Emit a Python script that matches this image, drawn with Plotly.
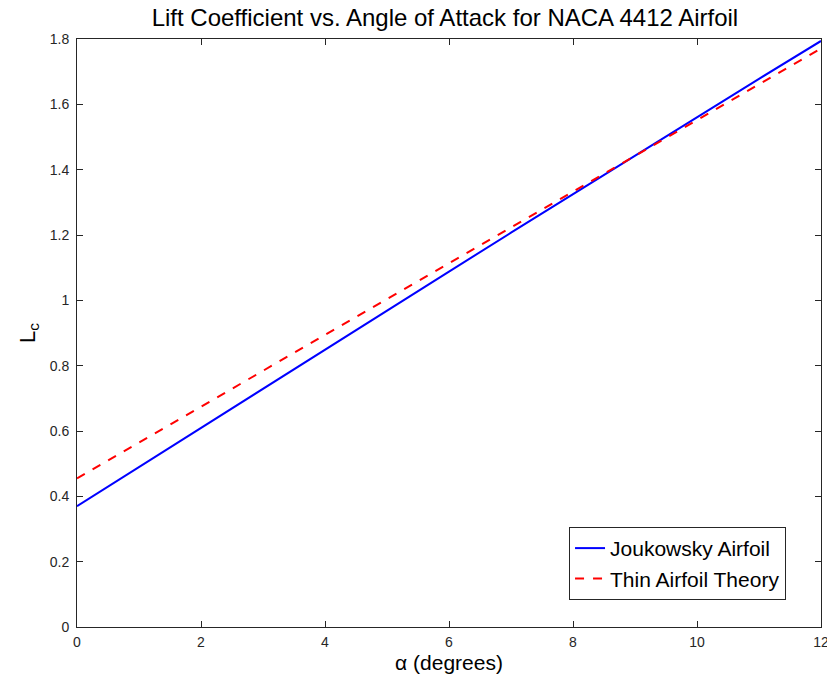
import plotly.graph_objects as go

alpha = [0, 1, 2, 3, 4, 5, 6, 7, 8, 9, 10, 11, 12]
joukowsky = [0.370, 0.490, 0.610, 0.730, 0.849, 0.969, 1.088, 1.207, 1.325, 1.443, 1.560, 1.678, 1.794]
thin_airfoil = [0.455, 0.565, 0.674, 0.784, 0.894, 1.004, 1.113, 1.223, 1.333, 1.442, 1.552, 1.662, 1.771]
xticks = [0, 2, 4, 6, 8, 10, 12]
yticks = [0, 0.2, 0.4, 0.6, 0.8, 1, 1.2, 1.4, 1.6, 1.8]

font = "Liberation Sans, Arial, sans-serif"

fig = go.Figure()
fig.add_trace(go.Scatter(x=alpha, y=joukowsky, mode="lines", name="Joukowsky Airfoil",
                         line=dict(color="#0000ff", width=2)))
fig.add_trace(go.Scatter(x=alpha, y=thin_airfoil, mode="lines", name="Thin Airfoil Theory",
                         line=dict(color="#ff0000", width=2, dash="dash")))

axis_common = dict(showgrid=False, zeroline=False, showline=True, linecolor="#262626", linewidth=1,
                   mirror="ticks", ticks="inside", ticklen=6, tickcolor="#262626",
                   ticklabeloverflow="allow",
                   tickfont=dict(family=font, size=14, color="#262626"))

fig.update_layout(
    width=827, height=677,
    margin=dict(l=77, r=6, t=39, b=50, autoexpand=False),
    paper_bgcolor="white", plot_bgcolor="white",
    title=dict(text="Lift Coefficient vs. Angle of Attack for NACA 4412 Airfoil",
               x=0.538, xanchor="center", y=1 - 18 / 677, yanchor="middle",
               font=dict(family=font, size=24, color="black")),
    xaxis=dict(range=[0, 12], tickvals=xticks, ticktext=[str(v) for v in xticks],
               title=dict(text="α (degrees)", font=dict(family=font, size=21, color="black"), standoff=6),
               ticklabelstandoff=2,
               **axis_common),
    yaxis=dict(range=[0, 1.8], tickvals=yticks, ticktext=[("%g" % v) for v in yticks],
               title=dict(text="L<sub>c</sub>", font=dict(family=font, size=22, color="black"), standoff=8),
               ticklabelstandoff=4,
               **axis_common),
    legend=dict(x=0.953, y=0.046, xanchor="right", yanchor="bottom",
                bordercolor="#262626", borderwidth=1, bgcolor="white",
                font=dict(family=font, size=21, color="black"), tracegroupgap=0),
    showlegend=True,
)

fig.write_html("out.html", config={"displayModeBar": False},
               post_script="document.body.style.margin='0px';")
